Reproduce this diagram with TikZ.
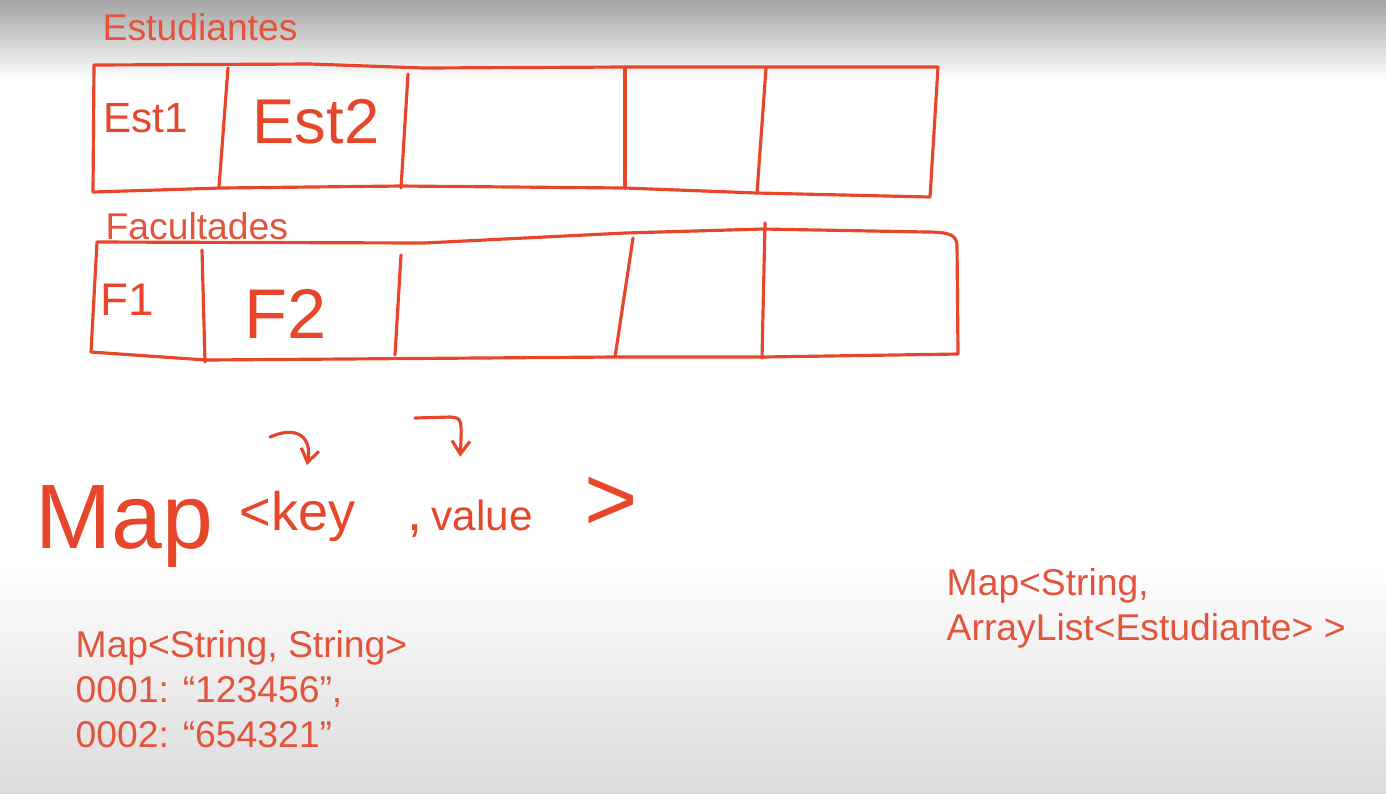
\documentclass[tikz,border=0pt]{standalone}
\usepackage{fontspec}
\setmainfont{Liberation Sans}
\usetikzlibrary{arrows.meta, positioning}
\definecolor{ink}{RGB}{232,70,42}
\definecolor{typed}{RGB}{226,84,60}
\tikzset{
    sketch/.style={draw=ink, line width=0.9pt, line join=round, line cap=round},
    hand/.style={text=ink, inner sep=0pt, anchor=base west},
    typedtext/.style={text=typed, inner sep=0pt, anchor=north west, align=left, font=\fontsize{10.6}{12.8}\selectfont},
    hint/.style={sketch, -{Straight Barb[length=1.3mm, width=1.8mm]}},
}

\begin{document}
\begin{tikzpicture}[x=0.01cm, y=-0.01cm]
    \useasboundingbox (0,0) rectangle (1386,793);
    % whiteboard
    \fill[white] (0,0) rectangle (1386,793);
    \shade[top color=black!36, bottom color=white] (0,0) rectangle (1386,80);
    \shade[top color=white, bottom color=black!14] (0,560) rectangle (1386,793);

    % array of students
    \node[typedtext] (estudiantes) at (102,13) {Estudiantes};
    \draw[sketch] (94,65) -- (310,64) -- (424,68) -- (625,67) -- (938,67) -- (930,197) -- (757,193) -- (625,188) -- (401,186) -- (221,188) -- (93,192) -- cycle;
    \foreach \xa/\ya/\xb/\yb in {228/68/219/187, 408/74/401/188, 625/67/625/188, 766/68/757/193} {
        \draw[sketch] (\xa,\ya) -- (\xb,\yb);
    }
    \node[hand, font=\fontsize{12}{14}\selectfont] (est1) at (103,132) {Est1};
    \node[hand, font=\fontsize{18}{20}\selectfont] (est2) at (252,143) {Est2};

    % array of faculties
    \node[typedtext] (facultades) at (105,212) {Facultades};
    \draw[sketch] (97,242) -- (424,243) -- (625,233) -- (763,229) -- (927,232) .. controls (952,232) and (956,236) .. (957,245) -- (958,354) -- (763,357) -- (614,357) -- (206,360) -- (91,352) -- cycle;
    \foreach \xa/\ya/\xb/\yb in {202/250/205/362, 401/255/395/355, 633/238/615/357, 765/223/762/358} {
        \draw[sketch] (\xa,\ya) -- (\xb,\yb);
    }
    \node[hand, font=\fontsize{13}{15}\selectfont] (fac1) at (100,315) {F1};
    \node[hand, font=\fontsize{20}{22}\selectfont] (fac2) at (244,338) {F2};

    % Map<key, value>
    \node[hand, font=\fontsize{26}{30}\selectfont] (map) at (35,548) {Map};
    \node[hand, font=\fontsize{15.4}{17}\selectfont, right=0.25cm of map.base east, anchor=base west, yshift=0.18cm] (key) {<key};
    \node[hand, font=\fontsize{15.4}{17}\selectfont, right=0.5cm of key.base east, anchor=base west] (comma) {,};
    \node[hand, font=\fontsize{12}{14}\selectfont, right=0.08cm of comma.base east, anchor=base west] (value) {value};
    \node[hand, font=\fontsize{26}{28}\selectfont, right=0.5cm of value.base east, anchor=base west] (close) {>};
    \coordinate (keyfrom) at (270,437);
    \coordinate (valuefrom) at (415,418);
    \draw[hint] (keyfrom) .. controls (300,424) and (312,440) .. ([xshift=0.09cm, yshift=0.25cm]key.north);
    \draw[hint] (valuefrom) -- (450,417) .. controls (462,418) .. ([xshift=-0.22cm, yshift=0.42cm]value.north);

    % examples
    \node[typedtext] (mapstr) at (75,630) {Map<String, String>\\0001: “123456”,\\0002: “654321”};
    \node[typedtext] (maplist) at (946,568) {Map<String,\\ArrayList<Estudiante> >};
\end{tikzpicture}
\end{document}
